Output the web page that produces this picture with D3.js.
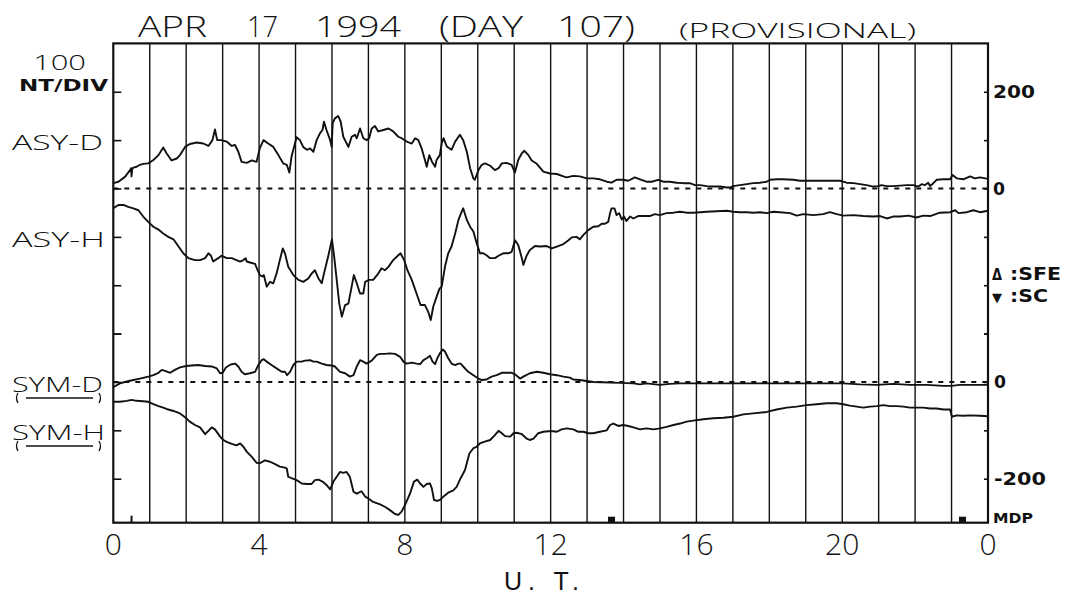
<!DOCTYPE html>
<html>
<head>
<meta charset="utf-8">
<script src="https://cdn.jsdelivr.net/npm/d3@7"></script>
<style>
  html, body { margin: 0; padding: 0; background: #fff; }
  svg { display: block; }
  .big { font-family: 'Open Sans', 'DejaVu Sans', sans-serif; font-weight: 300; fill: #111; }
  .ut { font-family: 'Liberation Sans', 'DejaVu Sans', sans-serif; font-weight: normal; fill: #111; }
  .small { font-family: 'DejaVu Sans', sans-serif; font-weight: bold; fill: #111; }
</style>
</head>
<body>
<svg id="chart" width="1067" height="596"></svg>
<script>
// ---------------- DATA (hours UT, nT) ----------------
const asyD = [[0,11],[0.14,14],[0.32,24],[0.46,38],[0.49,42],[0.5,25],[0.52,41],[0.55,43],[0.64,45],[0.73,49],[0.82,51],[0.96,52],[1.10,59],[1.24,69],[1.37,85],[1.46,73],[1.60,58],[1.74,62],[1.83,69],[1.97,86],[2.10,92],[2.29,95],[2.47,93],[2.61,88],[2.72,100],[2.79,122],[2.85,100],[2.97,100],[3.11,97],[3.25,88],[3.34,90],[3.43,76],[3.52,55],[3.66,53],[3.80,58],[3.93,55],[4.02,83],[4.12,100],[4.25,93],[4.39,86],[4.53,69],[4.66,52],[4.76,49],[4.83,33],[4.89,66],[5.03,106],[5.12,100],[5.21,86],[5.31,80],[5.40,83],[5.49,76],[5.58,100],[5.67,114],[5.74,121],[5.78,138],[5.85,121],[5.95,100],[5.99,86],[6.02,135],[6.08,145],[6.17,150],[6.24,138],[6.31,107],[6.45,86],[6.54,107],[6.63,111],[6.68,104],[6.77,124],[6.86,104],[6.95,100],[7.02,104],[7.09,124],[7.18,129],[7.27,118],[7.41,121],[7.55,124],[7.68,118],[7.82,107],[7.91,104],[8.05,97],[8.19,93],[8.28,104],[8.37,100],[8.46,83],[8.55,59],[8.60,45],[8.67,69],[8.74,56],[8.83,45],[8.87,59],[8.96,69],[9.01,93],[9.06,104],[9.15,87],[9.28,80],[9.38,97],[9.51,111],[9.60,100],[9.70,76],[9.79,42],[9.88,21],[9.92,18],[10.02,38],[10.11,49],[10.20,52],[10.34,47],[10.47,38],[10.57,42],[10.66,52],[10.79,53],[10.93,49],[11.02,33],[11.11,59],[11.21,73],[11.28,78],[11.39,69],[11.48,58],[11.62,51],[11.80,35],[11.98,31],[12.17,30],[12.35,25],[12.44,23],[12.62,26],[12.80,25],[12.99,21],[13.17,21],[13.35,19],[13.54,14],[13.67,12],[13.81,18],[13.99,18],[14.13,16],[14.31,23],[14.45,19],[14.63,14],[14.77,14],[14.95,18],[15.09,14],[15.27,14],[15.46,12],[15.64,11],[15.82,11],[15.96,7],[16.10,7],[16.28,5],[16.46,4],[16.65,4],[16.83,2],[16.92,2],[17.01,5],[17.19,7],[17.38,9],[17.56,11],[17.74,12],[17.93,14],[18.02,18],[18.20,19],[18.38,19],[18.66,18],[18.84,16],[19.21,16],[19.57,16],[19.94,16],[20.12,12],[20.31,11],[20.49,9],[20.67,7],[20.85,4],[20.99,5],[21.08,7],[21.22,5],[21.40,5],[21.59,6],[21.77,7],[21.95,7],[22.09,4],[22.18,9],[22.27,7],[22.36,12],[22.41,5],[22.50,11],[22.59,18],[22.78,19],[22.96,19],[23.03,28],[23.14,21],[23.32,19],[23.51,25],[23.64,21],[23.78,23],[24,20]];

// ASY-H values (positive nT); plotted downward from the ASY zero line
const asyH = [[0,41],[0.14,34],[0.28,34],[0.41,38],[0.55,41],[0.69,45],[0.82,58],[0.96,69],[1.10,79],[1.24,85],[1.37,93],[1.51,100],[1.65,105],[1.78,119],[1.92,134],[2.06,144],[2.24,148],[2.38,148],[2.52,144],[2.61,134],[2.68,139],[2.74,151],[2.88,144],[2.97,139],[3.11,144],[3.25,144],[3.38,148],[3.48,151],[3.57,148],[3.63,144],[3.66,151],[3.75,153],[3.89,156],[3.96,169],[4.02,179],[4.09,182],[4.13,179],[4.21,203],[4.30,193],[4.39,196],[4.48,176],[4.57,148],[4.65,124],[4.71,134],[4.80,162],[4.94,179],[5.08,189],[5.21,193],[5.35,186],[5.44,176],[5.53,169],[5.63,186],[5.72,196],[5.78,176],[5.90,139],[6.0,105],[6.06,141],[6.13,189],[6.20,238],[6.27,265],[6.36,241],[6.45,238],[6.54,203],[6.60,179],[6.68,196],[6.77,217],[6.86,217],[6.91,193],[7.02,189],[7.13,189],[7.27,176],[7.36,165],[7.45,169],[7.55,162],[7.68,148],[7.82,138],[7.88,134],[7.98,148],[8.07,169],[8.19,189],[8.32,217],[8.43,241],[8.55,241],[8.64,255],[8.71,272],[8.78,244],[8.87,224],[8.95,207],[9.01,203],[9.10,162],[9.19,134],[9.28,120],[9.38,93],[9.47,65],[9.56,48],[9.60,41],[9.70,65],[9.79,79],[9.88,89],[9.97,113],[10.06,134],[10.15,134],[10.24,138],[10.34,144],[10.47,144],[10.57,139],[10.70,134],[10.84,134],[10.93,131],[11.02,107],[11.11,117],[11.21,144],[11.25,158],[11.34,139],[11.43,127],[11.57,119],[11.71,120],[11.89,119],[12.03,124],[12.17,120],[12.35,115],[12.49,107],[12.58,101],[12.71,100],[12.80,105],[12.90,96],[13.03,86],[13.17,79],[13.31,78],[13.40,73],[13.49,73],[13.58,69],[13.63,51],[13.67,41],[13.75,41],[13.81,55],[13.88,51],[13.95,64],[14.01,58],[14.08,67],[14.18,58],[14.27,62],[14.40,57],[14.54,57],[14.72,57],[14.86,53],[15.0,55],[15.18,51],[15.37,50],[15.55,48],[15.73,50],[15.91,50],[16.10,49],[16.28,48],[16.55,47],[16.83,46],[17.01,48],[17.19,49],[17.38,49],[17.56,50],[17.74,49],[17.93,51],[18.11,48],[18.29,49],[18.57,51],[18.75,56],[18.93,53],[19.21,55],[19.48,53],[19.66,49],[19.85,53],[20.03,56],[20.31,55],[20.58,57],[20.85,58],[21.04,57],[21.22,62],[21.40,58],[21.59,58],[21.82,56],[22.03,60],[22.23,56],[22.41,57],[22.68,50],[22.96,49],[23.10,45],[23.19,51],[23.42,49],[23.60,45],[23.78,49],[24,46]];

const symD = [[0,-11],[0.18,-3],[0.37,1],[0.55,4],[0.73,7],[0.96,11],[1.10,14],[1.24,19],[1.33,25],[1.42,23],[1.56,19],[1.69,25],[1.83,30],[2.0,33],[2.15,34],[2.33,35],[2.52,33],[2.70,32],[2.84,28],[2.93,18],[3.0,19],[3.09,30],[3.22,36],[3.34,38],[3.43,32],[3.52,21],[3.61,16],[3.75,18],[3.89,21],[3.98,35],[4.07,45],[4.13,47],[4.21,42],[4.34,35],[4.48,28],[4.62,21],[4.71,21],[4.77,14],[4.85,21],[4.94,35],[5.03,42],[5.17,42],[5.26,44],[5.40,45],[5.49,42],[5.58,42],[5.72,38],[5.85,35],[5.99,34],[6.08,32],[6.22,21],[6.36,18],[6.49,11],[6.59,14],[6.68,32],[6.77,45],[6.86,42],[6.95,38],[7.09,44],[7.23,56],[7.32,58],[7.45,58],[7.59,59],[7.73,58],[7.87,52],[7.96,42],[8.05,38],[8.19,40],[8.32,38],[8.42,37],[8.51,45],[8.60,49],[8.69,54],[8.76,42],[8.83,37],[8.89,49],[8.96,59],[9.04,67],[9.10,63],[9.19,49],[9.28,38],[9.38,35],[9.47,38],[9.53,38],[9.60,32],[9.74,21],[9.88,14],[10.02,7],[10.11,4],[10.24,5],[10.38,11],[10.52,14],[10.66,19],[10.79,19],[10.93,19],[11.02,16],[11.16,7],[11.25,11],[11.43,18],[11.62,21],[11.80,19],[11.98,16],[12.17,14],[12.35,11],[12.53,9],[12.62,5],[12.80,4],[12.99,2],[13.17,0],[13.63,-1],[13.90,-2],[14.27,-3],[14.45,-5],[14.63,-3],[15.0,-6],[15.27,-4],[15.55,-3],[16.37,-3],[17.29,-3],[18.2,-3],[19.12,-3],[20.03,-3],[20.49,-5],[20.95,-6],[21.40,-4],[21.86,-6],[22.32,-6],[22.78,-8],[23.0,-8],[23.23,-6],[23.78,-6],[24,-6]];

const symH = [[0,-41],[0.18,-41],[0.37,-39],[0.50,-37],[0.64,-39],[0.82,-40],[0.96,-41],[1.10,-46],[1.24,-50],[1.37,-53],[1.51,-57],[1.65,-60],[1.83,-65],[1.97,-73],[2.10,-82],[2.24,-89],[2.38,-94],[2.52,-108],[2.61,-101],[2.70,-94],[2.79,-98],[2.93,-113],[3.02,-120],[3.11,-124],[3.25,-128],[3.38,-131],[3.48,-127],[3.57,-134],[3.66,-144],[3.80,-155],[3.93,-167],[4.02,-168],[4.16,-162],[4.30,-165],[4.44,-170],[4.57,-175],[4.71,-177],[4.76,-179],[4.80,-196],[4.89,-199],[5.03,-203],[5.17,-210],[5.31,-211],[5.44,-211],[5.53,-203],[5.63,-202],[5.74,-206],[5.85,-213],[5.95,-222],[6.04,-206],[6.13,-196],[6.22,-186],[6.31,-188],[6.40,-186],[6.49,-196],[6.59,-227],[6.68,-231],[6.81,-226],[6.91,-237],[7.0,-241],[7.13,-248],[7.32,-253],[7.45,-258],[7.59,-265],[7.73,-273],[7.82,-275],[7.91,-268],[8.0,-255],[8.14,-231],[8.25,-206],[8.34,-202],[8.42,-210],[8.51,-217],[8.60,-211],[8.69,-210],[8.74,-220],[8.80,-244],[8.89,-246],[8.96,-244],[9.06,-237],[9.19,-229],[9.33,-224],[9.42,-217],[9.53,-199],[9.65,-182],[9.77,-148],[9.88,-137],[9.97,-134],[10.06,-127],[10.17,-124],[10.34,-120],[10.47,-110],[10.57,-101],[10.66,-106],[10.75,-112],[10.89,-113],[10.98,-106],[11.07,-105],[11.21,-108],[11.34,-117],[11.43,-120],[11.53,-117],[11.66,-106],[11.80,-103],[11.94,-102],[12.07,-102],[12.17,-103],[12.30,-98],[12.44,-96],[12.62,-98],[12.76,-103],[12.90,-103],[13.03,-106],[13.17,-106],[13.35,-103],[13.54,-100],[13.63,-89],[13.72,-86],[13.86,-91],[13.99,-89],[14.13,-91],[14.27,-94],[14.45,-98],[14.63,-96],[14.82,-98],[15.0,-96],[15.18,-93],[15.37,-89],[15.55,-86],[15.73,-82],[15.91,-80],[16.19,-77],[16.46,-75],[16.74,-74],[17.01,-72],[17.29,-67],[17.56,-65],[17.93,-62],[18.2,-57],[18.48,-53],[18.75,-51],[19.02,-48],[19.30,-46],[19.57,-44],[19.85,-44],[20.03,-46],[20.21,-49],[20.40,-51],[20.58,-53],[20.76,-51],[20.95,-50],[21.13,-48],[21.31,-50],[21.49,-50],[21.68,-51],[21.86,-53],[22.04,-53],[22.23,-53],[22.41,-55],[22.59,-55],[22.78,-57],[22.96,-57],[23.01,-72],[23.14,-69],[23.32,-70],[23.51,-69],[23.78,-70],[24,-71]];

const hourTicks = [0, 4, 8, 12, 16, 20, 24];
const hourTickLabels = ["0", "4", "8", "12", "16", "20", "0"];
const gridHours = d3.range(1, 24);
const asyTickValues = [200, 100, 0, -100, -200, -300];
const symTickValues = [100, 0, -100, -200];
const asyRightLabels = [200, 0];
const symRightLabels = [0, -200];
const mdpHours = [13.67, 23.3];
const markHours = [0.5];
const titleWords = ["APR", "17", "1994", "(DAY", "107)"];
const subTitle = "(PROVISIONAL)";

// ---------------- LAYOUT ----------------
const svg = d3.select("#chart");
svg.append("rect").attr("width", 1067).attr("height", 596).attr("fill", "#fff");

const L = 113.3, R = 988, T = 43.4, B = 522.7;
const x = d3.scaleLinear().domain([0, 24]).range([L, R]);
// ASY panel scale (100 nT / division); SYM panel uses same scale offset by 400 nT
const y = d3.scaleLinear().domain([-691, 300]).range([B, T]);
const ySym = d3.scaleLinear().domain([-291, 700]).range([B, T]);

// hour grid lines
svg.append("g").selectAll("line").data(gridHours).join("line")
  .attr("x1", d => x(d)).attr("x2", d => x(d))
  .attr("y1", T).attr("y2", B)
  .attr("stroke", "#111").attr("stroke-width", 1.4);

// dashed zero lines
[[y, 0], [ySym, 0]].forEach(([s, v]) => {
  svg.append("line").attr("x1", L).attr("x2", R)
    .attr("y1", s(v)).attr("y2", s(v))
    .attr("stroke", "#111").attr("stroke-width", 2)
    .attr("stroke-dasharray", "5,6");
});

// left axis (inward ticks)
svg.append("g").attr("transform", `translate(${L},0)`)
  .call(d3.axisLeft(y).tickValues(asyTickValues).tickSize(-8).tickFormat(""));
svg.append("g").attr("transform", `translate(${L},0)`)
  .call(d3.axisLeft(ySym).tickValues(symTickValues).tickSize(-8).tickFormat(""));
// right axis (inward ticks)
svg.append("g").attr("transform", `translate(${R},0)`)
  .call(d3.axisRight(y).tickValues(asyTickValues).tickSize(-4).tickFormat(""));
svg.append("g").attr("transform", `translate(${R},0)`)
  .call(d3.axisRight(ySym).tickValues(symTickValues).tickSize(-4).tickFormat(""));
svg.selectAll(".domain").remove();
svg.selectAll(".tick line").attr("stroke", "#111").attr("stroke-width", 1.6);

// frame
svg.append("rect").attr("x", L).attr("y", T).attr("width", R - L).attr("height", B - T)
  .attr("fill", "none").attr("stroke", "#111").attr("stroke-width", 2.2);

// curves
const lineAsy = d3.line().x(d => x(d[0])).y(d => y(d[1]));
const lineAsyH = d3.line().x(d => x(d[0])).y(d => y(-d[1]));
const lineSym = d3.line().x(d => x(d[0])).y(d => ySym(d[1]));
const curves = [[asyD, lineAsy], [asyH, lineAsyH], [symD, lineSym], [symH, lineSym]];
curves.forEach(([data, gen]) => {
  svg.append("path").attr("d", gen(data)).attr("fill", "none")
    .attr("stroke", "#111").attr("stroke-width", 1.9).attr("stroke-linejoin", "round");
});

// bottom markers
svg.append("g").selectAll("line").data(markHours).join("line")
  .attr("x1", d => x(d)).attr("x2", d => x(d)).attr("y1", B - 7).attr("y2", B)
  .attr("stroke", "#111").attr("stroke-width", 2);
svg.append("g").selectAll("rect").data(mdpHours).join("rect")
  .attr("x", d => x(d) - 3.5).attr("y", B - 6).attr("width", 7).attr("height", 6)
  .attr("fill", "#111");

// bottom labels
svg.append("g").selectAll("text").data(hourTicks).join("text")
  .attr("class", "big").attr("x", d => x(d)).attr("y", 555)
  .attr("text-anchor", "middle").attr("font-size", 30)
  .text((d, i) => hourTickLabels[i]);
svg.append("text").attr("class", "ut").attr("x", 504).attr("y", 590)
  .attr("font-size", 25).attr("textLength", 75).attr("lengthAdjust", "spacing").text("U. T.");

// title
const titleX = [[138, 69], [247, 31], [315, 86], [439, 84], [557, 78]];
svg.append("g").selectAll("text").data(titleWords).join("text")
  .attr("class", "big").attr("font-size", 30)
  .attr("x", (d, i) => titleX[i][0]).attr("y", 37)
  .attr("textLength", (d, i) => titleX[i][1]).attr("lengthAdjust", "spacingAndGlyphs")
  .text(d => d);
svg.append("text").attr("class", "big").attr("font-size", 21)
  .attr("x", 679).attr("y", 38).attr("textLength", 237).attr("lengthAdjust", "spacingAndGlyphs")
  .text(subTitle);

// left labels
function lbl(txt, xx, yy, fs, tl, cls) {
  svg.append("text").attr("class", cls || "big").attr("x", xx).attr("y", yy)
    .attr("font-size", fs).attr("textLength", tl).attr("lengthAdjust", "spacingAndGlyphs").text(txt);
}
lbl("100", 33, 70, 21, 53);
lbl("NT/DIV", 19, 91, 15, 89, "small");
lbl("ASY-D", 12, 150, 21, 91);
lbl("ASY-H", 12, 247, 21, 93);
lbl("SYM-D", 12, 392, 21, 91);
lbl("SYM-H", 12, 440, 21, 93);
// underline brackets under SYM labels (plotter marks)
[398, 446].forEach(yy => {
  svg.append("line").attr("x1", 26).attr("x2", 93).attr("y1", yy).attr("y2", yy)
    .attr("stroke", "#111").attr("stroke-width", 1.6);
  svg.append("path").attr("d", `M18,${yy - 5} Q15,${yy} 18,${yy + 5}`)
    .attr("fill", "none").attr("stroke", "#111").attr("stroke-width", 1.3);
  svg.append("path").attr("d", `M99,${yy - 5} Q102,${yy} 99,${yy + 5}`)
    .attr("fill", "none").attr("stroke", "#111").attr("stroke-width", 1.3);
});

// right labels
svg.append("g").selectAll("text").data(asyRightLabels).join("text")
  .attr("class", "small").attr("font-size", 18)
  .attr("x", 993).attr("y", d => y(d) + 6.5)
  .attr("textLength", d => d === 0 ? 12 : 42).attr("lengthAdjust", "spacingAndGlyphs")
  .text(d => d);
svg.append("g").selectAll("text").data(symRightLabels).join("text")
  .attr("class", "small").attr("font-size", 18)
  .attr("x", 994).attr("y", d => ySym(d) + 6.5)
  .attr("textLength", d => d === 0 ? 12 : 52).attr("lengthAdjust", "spacingAndGlyphs")
  .text(d => d);
lbl("Δ", 992, 280, 15, 10, "small");
lbl(":SFE", 1010, 280, 17, 51, "small");
lbl("▼", 992, 302, 13, 10, "small");
lbl(":SC", 1010, 302, 17, 38, "small");
lbl("MDP", 993, 523, 14, 40, "small");
</script>
</body>
</html>
